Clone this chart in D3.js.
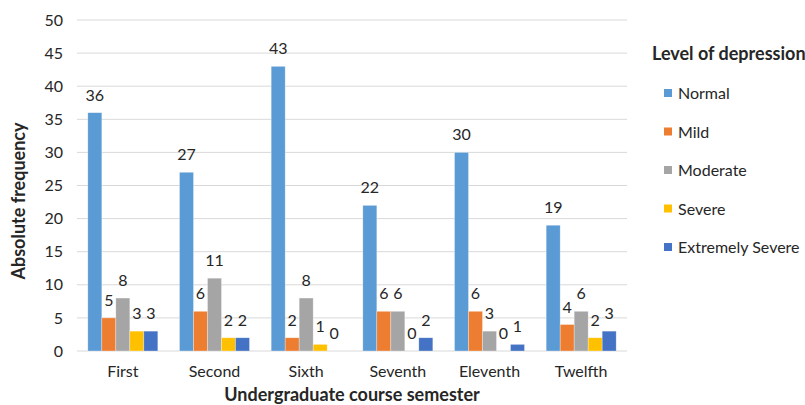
<!DOCTYPE html>
<html>
<head>
<meta charset="utf-8">
<script src="https://cdn.jsdelivr.net/npm/d3@7"></script>
<style>
  body { margin: 0; background: #fff; overflow: hidden; }
  svg text { font-family: Lato, "Open Sans", sans-serif; fill: #262626; }
</style>
</head>
<body>
<div id="chart"></div>
<script>
// Chart data
const semesters = ["First", "Second", "Sixth", "Seventh", "Eleventh", "Twelfth"];
const levels = ["Normal", "Mild", "Moderate", "Severe", "Extremely Severe"];
const normal = [36, 27, 43, 22, 30, 19];
const mild = [5, 6, 2, 6, 6, 4];
const moderate = [8, 11, 8, 6, 3, 6];
const severe = [3, 2, 1, 0, 0, 2];
const extremelySevere = [3, 2, 0, 2, 1, 3];
const yTicks = [0, 5, 10, 15, 20, 25, 30, 35, 40, 45, 50];
const colors = ["#5B9BD5", "#ED7D31", "#A5A5A5", "#FFC000", "#4472C4"];

const seriesValues = [normal, mild, moderate, severe, extremelySevere];

const width = 805, height = 405;
const margin = { top: 20, right: 178, bottom: 54, left: 77 };
const plotW = width - margin.left - margin.right;
const plotH = height - margin.top - margin.bottom;

const svg = d3.select("#chart").append("svg")
    .attr("width", width)
    .attr("height", height);

const g = svg.append("g")
    .attr("transform", `translate(${margin.left},${margin.top})`);

// Scales
const x0 = d3.scaleBand().domain(semesters).range([0, plotW]);
const groupW = 70;
const x1 = d3.scaleBand().domain(levels).range([0, groupW]);
const y = d3.scaleLinear().domain([0, 50]).range([plotH, 0]);

// Gridlines
g.selectAll(".grid")
    .data(yTicks)
    .enter().append("line")
    .attr("x1", 0).attr("x2", plotW)
    .attr("y1", d => y(d)).attr("y2", d => y(d))
    .attr("stroke", "#D9D9D9")
    .attr("stroke-width", 1);

// Y axis labels
const yAxis = d3.axisLeft(y).tickValues(yTicks).tickSize(0).tickPadding(14);
g.append("g").call(yAxis)
    .call(a => a.select(".domain").remove())
    .selectAll("text")
    .style("font-size", "16px")
    .attr("fill", "#262626");

// X axis labels
const xAxis = d3.axisBottom(x0).tickSize(0).tickPadding(15);
g.append("g").attr("transform", `translate(0,${plotH})`).call(xAxis)
    .call(a => a.select(".domain").remove())
    .selectAll("text")
    .style("font-size", "16px")
    .attr("fill", "#262626");

// Bars
const groups = g.selectAll(".group")
    .data(semesters)
    .enter().append("g")
    .attr("transform", d => `translate(${x0(d) + (x0.bandwidth() - groupW) / 2},0)`);

groups.each(function(sem, i) {
    const rows = levels.map((lv, j) => ({ level: lv, value: seriesValues[j][i], color: colors[j] }));
    const sel = d3.select(this);
    sel.selectAll("rect")
        .data(rows)
        .enter().append("rect")
        .attr("x", d => x1(d.level))
        .attr("y", d => y(d.value))
        .attr("width", x1.bandwidth())
        .attr("height", d => plotH - y(d.value))
        .attr("fill", d => d.color)
        .attr("stroke", "#fff")
        .attr("stroke-opacity", 0.5)
        .attr("stroke-width", 0.6);
    sel.selectAll("text")
        .data(rows)
        .enter().append("text")
        .attr("x", d => x1(d.level) + x1.bandwidth() / 2)
        .attr("y", d => y(d.value) - 12)
        .attr("text-anchor", "middle")
        .style("font-size", "16px")
        .text(d => d.value);
});

// Axis titles
svg.append("text")
    .attr("transform", "translate(25,201) rotate(-90)")
    .attr("text-anchor", "middle")
    .style("font-size", "18px")
    .style("font-weight", "bold")
    .text("Absolute frequency");

svg.append("text")
    .attr("x", margin.left + plotW / 2)
    .attr("y", 401)
    .attr("text-anchor", "middle")
    .style("font-size", "18px")
    .style("font-weight", "bold")
    .text("Undergraduate course semester");

// Legend
const legend = svg.append("g").attr("transform", "translate(652,0)");
legend.append("text")
    .attr("x", 0).attr("y", 60)
    .style("font-size", "18px")
    .style("font-weight", "bold")
    .text("Level of depression");

const items = legend.selectAll(".item")
    .data(levels)
    .enter().append("g")
    .attr("transform", (d, i) => `translate(12,${93 + i * 38.5})`);
items.append("rect")
    .attr("x", 0).attr("y", -4)
    .attr("width", 8).attr("height", 8)
    .attr("fill", (d, i) => colors[i]);
items.append("text")
    .attr("x", 14).attr("y", 6)
    .style("font-size", "16px")
    .text(d => d);
</script>
</body>
</html>
